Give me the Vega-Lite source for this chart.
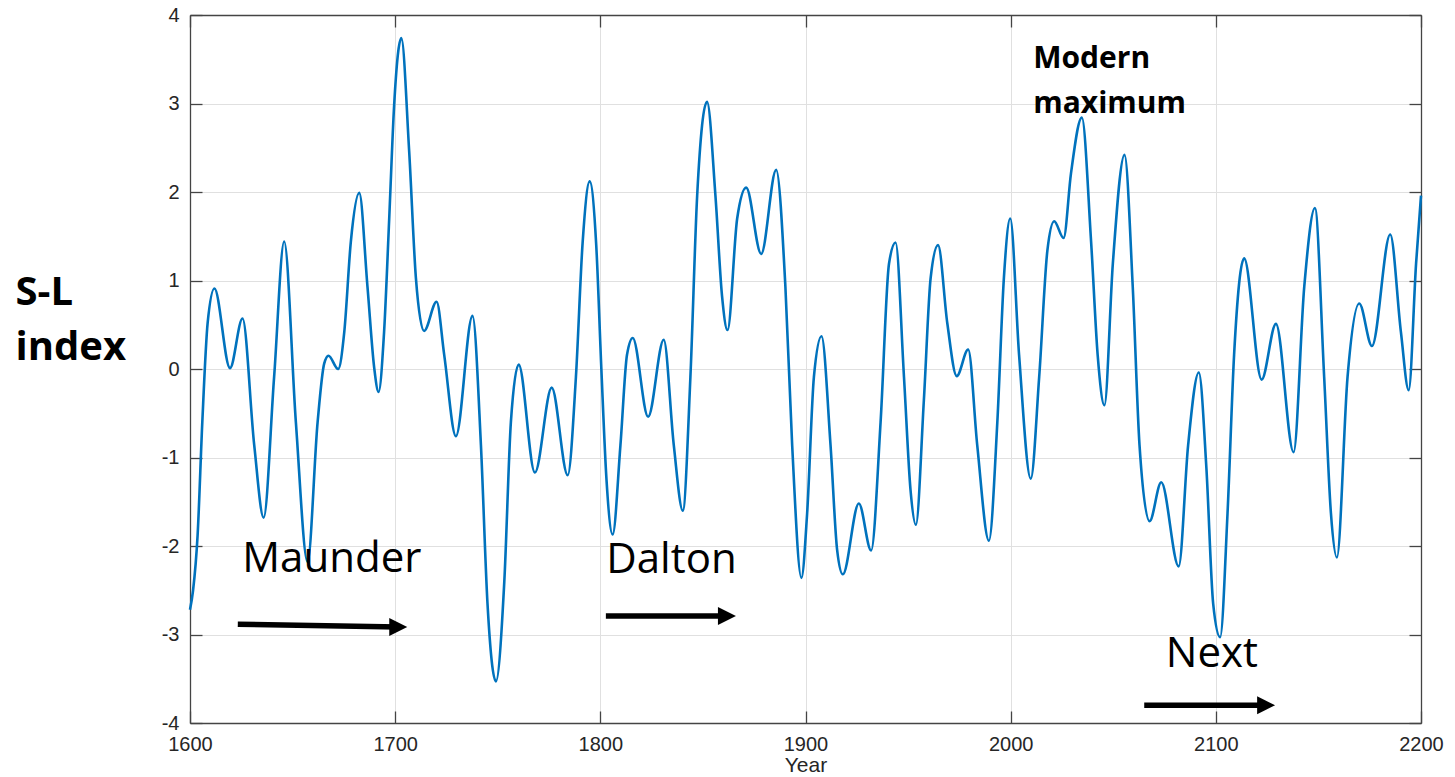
{
  "$schema": "https://vega.github.io/schema/vega-lite/v6.json",
  "width": 1231,
  "height": 708,
  "autosize": {"type": "none"},
  "padding": {"left": 190, "top": 15, "right": 34, "bottom": 54},
  "background": "white",
  "config": {"view": {"stroke": null}},
  "datasets": {
    "series": [
      {"year": 1600, "value": -2.72}, {"year": 1601.5, "value": -2.5}, {"year": 1603.7, "value": -1.88},
      {"year": 1606, "value": -0.6}, {"year": 1608.6, "value": 0.52}, {"year": 1611.9, "value": 0.91},
      {"year": 1619.5, "value": 0.01}, {"year": 1625.6, "value": 0.57}, {"year": 1631.3, "value": -0.86},
      {"year": 1635.9, "value": -1.68}, {"year": 1641, "value": -0.09}, {"year": 1645.9, "value": 1.44},
      {"year": 1651.6, "value": -0.6}, {"year": 1657.3, "value": -2.18}, {"year": 1662.2, "value": -0.6},
      {"year": 1665.4, "value": 0.06}, {"year": 1667.5, "value": 0.15}, {"year": 1672.2, "value": 0.0},
      {"year": 1675.2, "value": 0.42}, {"year": 1678.4, "value": 1.44}, {"year": 1682.5, "value": 1.99},
      {"year": 1686.5, "value": 0.93}, {"year": 1689.8, "value": 0.01}, {"year": 1691.9, "value": -0.26},
      {"year": 1694.6, "value": 0.42}, {"year": 1697.1, "value": 1.7}, {"year": 1699.5, "value": 2.98},
      {"year": 1703, "value": 3.74}, {"year": 1706.8, "value": 2.47}, {"year": 1710.1, "value": 1.03},
      {"year": 1714.1, "value": 0.43}, {"year": 1720.2, "value": 0.76}, {"year": 1723.9, "value": 0.16},
      {"year": 1729.6, "value": -0.76}, {"year": 1737.7, "value": 0.6}, {"year": 1741.8, "value": -0.86},
      {"year": 1745, "value": -2.65}, {"year": 1749.1, "value": -3.53}, {"year": 1753.2, "value": -2.4},
      {"year": 1756.4, "value": -0.6}, {"year": 1760.2, "value": 0.05}, {"year": 1768.1, "value": -1.17},
      {"year": 1776.3, "value": -0.21}, {"year": 1784.1, "value": -1.2}, {"year": 1788.1, "value": -0.09},
      {"year": 1791.4, "value": 1.44}, {"year": 1794.8, "value": 2.12}, {"year": 1798, "value": 1.4},
      {"year": 1800.5, "value": 0.0}, {"year": 1803, "value": -1.25}, {"year": 1806, "value": -1.87},
      {"year": 1809.8, "value": -0.86}, {"year": 1813, "value": 0.16}, {"year": 1815.8, "value": 0.35},
      {"year": 1823.3, "value": -0.54}, {"year": 1830.9, "value": 0.33}, {"year": 1835.8, "value": -0.86},
      {"year": 1840.2, "value": -1.6}, {"year": 1843.9, "value": -0.09}, {"year": 1847.2, "value": 1.96},
      {"year": 1852, "value": 3.02}, {"year": 1856.1, "value": 1.96}, {"year": 1859.3, "value": 0.83},
      {"year": 1862, "value": 0.44}, {"year": 1866.7, "value": 1.7}, {"year": 1871.1, "value": 2.05},
      {"year": 1878.4, "value": 1.3}, {"year": 1885.7, "value": 2.25}, {"year": 1890.2, "value": 0.93},
      {"year": 1893.5, "value": -0.86}, {"year": 1898, "value": -2.36}, {"year": 1900.8, "value": -1.63},
      {"year": 1904.1, "value": -0.09}, {"year": 1907.8, "value": 0.37}, {"year": 1912.2, "value": -0.86},
      {"year": 1915.4, "value": -2.04}, {"year": 1918.2, "value": -2.32}, {"year": 1926, "value": -1.52},
      {"year": 1932, "value": -2.05}, {"year": 1936.6, "value": -0.6}, {"year": 1940.7, "value": 1.19},
      {"year": 1943.9, "value": 1.43}, {"year": 1948, "value": -0.09}, {"year": 1951.2, "value": -1.37},
      {"year": 1953.8, "value": -1.76}, {"year": 1957.7, "value": -0.35}, {"year": 1961, "value": 1.03},
      {"year": 1964.6, "value": 1.4}, {"year": 1969.1, "value": 0.52}, {"year": 1973.7, "value": -0.08},
      {"year": 1979.3, "value": 0.22}, {"year": 1983.7, "value": -0.86}, {"year": 1989.4, "value": -1.94},
      {"year": 1993.5, "value": -0.6}, {"year": 1996.7, "value": 1.03}, {"year": 1999.8, "value": 1.7},
      {"year": 2004.1, "value": 0.16}, {"year": 2009.8, "value": -1.24}, {"year": 2013.9, "value": -0.09},
      {"year": 2017.9, "value": 1.34}, {"year": 2021.2, "value": 1.67}, {"year": 2025.8, "value": 1.48},
      {"year": 2029.4, "value": 2.21}, {"year": 2034.7, "value": 2.84}, {"year": 2039.2, "value": 1.44},
      {"year": 2042.4, "value": 0.16}, {"year": 2045.7, "value": -0.41}, {"year": 2049.8, "value": 1.19},
      {"year": 2055.5, "value": 2.42}, {"year": 2059.5, "value": 0.93}, {"year": 2062.8, "value": -0.86},
      {"year": 2067.7, "value": -1.72}, {"year": 2073.4, "value": -1.28}, {"year": 2081.9, "value": -2.23},
      {"year": 2086.5, "value": -0.86}, {"year": 2091.7, "value": -0.04}, {"year": 2095.4, "value": -1.12},
      {"year": 2098.7, "value": -2.65}, {"year": 2102.1, "value": -3.03}, {"year": 2105.7, "value": -1.63},
      {"year": 2108.9, "value": 0.16}, {"year": 2113.8, "value": 1.25}, {"year": 2122.3, "value": -0.12},
      {"year": 2129.3, "value": 0.51}, {"year": 2137.9, "value": -0.94}, {"year": 2143.1, "value": 0.93},
      {"year": 2148.3, "value": 1.82}, {"year": 2152.8, "value": -0.09}, {"year": 2156.1, "value": -1.63},
      {"year": 2159, "value": -2.13}, {"year": 2164.2, "value": -0.09}, {"year": 2169.9, "value": 0.74},
      {"year": 2176.1, "value": 0.26}, {"year": 2185, "value": 1.52}, {"year": 2190.2, "value": 0.42},
      {"year": 2194, "value": -0.24}, {"year": 2197.6, "value": 1.19}, {"year": 2200, "value": 1.96}
    ],
    "periods": [
      {"label": "Maunder", "year": 1625.5, "value": -2.29},
      {"label": "Dalton", "year": 1802.9, "value": -2.31},
      {"label": "Next", "year": 2075.6, "value": -3.37}
    ],
    "modern": [
      {"label": "Modern", "year": 2011.0, "value": 3.4},
      {"label": "maximum", "year": 2011.0, "value": 2.89}
    ],
    "arrows": [
      {"period": "Maunder", "start": 1623.3, "end": 1701.5, "from": -2.885, "to": -2.915},
      {"period": "Dalton", "start": 1802.7, "end": 1861.7, "from": -2.79, "to": -2.79},
      {"period": "Next", "start": 2065.1, "end": 2124.5, "from": -3.8, "to": -3.8}
    ]
  },
  "layer": [
    {
      "data": {"name": "series"},
      "mark": {"type": "line", "interpolate": "monotone", "color": "#0072BD", "strokeWidth": 2.6},
      "encoding": {
        "x": {
          "field": "year", "type": "quantitative",
          "scale": {"domain": [1600, 2200], "nice": false, "zero": false},
          "axis": {
            "orient": "bottom",
            "values": [1600, 1700, 1800, 1900, 2000, 2100, 2200],
            "format": "d",
            "grid": true, "gridColor": "#e0e0e0", "gridWidth": 1,
            "domainColor": "#444444", "domainWidth": 1.3,
            "ticks": true, "tickColor": "#444444", "tickWidth": 1.3, "tickSize": -12,
            "labelFont": "Liberation Sans", "labelFontSize": 20, "labelColor": "#262626",
            "labelPadding": 23, "labelFlush": false, "labelOverlap": false,
            "title": "Year", "titleFont": "Liberation Sans", "titleFontSize": 21,
            "titleFontWeight": "normal", "titleColor": "#262626", "titlePadding": 0
          }
        },
        "y": {
          "field": "value", "type": "quantitative",
          "scale": {"domain": [-4, 4], "nice": false, "zero": false},
          "axis": {
            "orient": "left",
            "values": [-4, -3, -2, -1, 0, 1, 2, 3, 4],
            "labelExpr": "datum.value < 0 ? '-' + abs(datum.value) : '' + datum.value",
            "grid": true, "gridColor": "#e0e0e0", "gridWidth": 1,
            "domainColor": "#444444", "domainWidth": 1.3,
            "ticks": true, "tickColor": "#444444", "tickWidth": 1.3, "tickSize": -12,
            "labelFont": "Liberation Sans", "labelFontSize": 20, "labelColor": "#262626",
            "labelPadding": 23, "labelFlush": false, "labelOverlap": false,
            "title": ["S-L", "index"], "titleFont": "Open Sans", "titleFontSize": 40,
            "titleFontWeight": "bold", "titleColor": "black", "titleAngle": 0,
            "titleAlign": "left", "titleBaseline": "alphabetic", "titleLineHeight": 55,
            "titleX": -175, "titleY": 289
          }
        }
      }
    },
    {
      "data": {"name": "arrows"},
      "mark": {"type": "rule", "color": "black", "strokeWidth": 5.5},
      "encoding": {
        "x": {
          "field": "start", "type": "quantitative",
          "scale": {"domain": [1600, 2200], "nice": false, "zero": false},
          "axis": {
            "orient": "top", "values": [1600, 1700, 1800, 1900, 2000, 2100, 2200],
            "labels": false, "grid": false, "title": null,
            "domainColor": "#444444", "domainWidth": 1.3,
            "tickColor": "#444444", "tickWidth": 1.3, "tickSize": -12
          }
        },
        "x2": {"field": "end"},
        "y": {
          "field": "from", "type": "quantitative",
          "scale": {"domain": [-4, 4], "nice": false, "zero": false},
          "axis": {
            "orient": "right", "values": [-4, -3, -2, -1, 0, 1, 2, 3, 4],
            "labels": false, "grid": false, "title": null,
            "domainColor": "#444444", "domainWidth": 1.3,
            "tickColor": "#444444", "tickWidth": 1.3, "tickSize": -12
          }
        },
        "y2": {"field": "to"}
      }
    },
    {
      "data": {"name": "arrows"},
      "mark": {"type": "point", "shape": "M-1,-1L1,0L-1,1Z", "filled": true, "size": 324, "color": "black", "opacity": 1, "strokeWidth": 0},
      "encoding": {
        "x": {"field": "end", "type": "quantitative", "axis": null},
        "y": {"field": "to", "type": "quantitative", "axis": null}
      }
    },
    {
      "data": {"name": "periods"},
      "mark": {"type": "text", "font": "Open Sans", "fontSize": 42, "color": "black", "align": "left", "baseline": "alphabetic"},
      "encoding": {
        "x": {"field": "year", "type": "quantitative", "axis": null},
        "y": {"field": "value", "type": "quantitative", "axis": null},
        "text": {"field": "label"}
      }
    },
    {
      "data": {"name": "modern"},
      "mark": {"type": "text", "font": "Open Sans", "fontSize": 30, "fontWeight": "bold", "color": "black", "align": "left", "baseline": "alphabetic"},
      "encoding": {
        "x": {"field": "year", "type": "quantitative", "axis": null},
        "y": {"field": "value", "type": "quantitative", "axis": null},
        "text": {"field": "label"}
      }
    }
  ],
  "resolve": {"axis": {"x": "independent", "y": "independent"}}
}
